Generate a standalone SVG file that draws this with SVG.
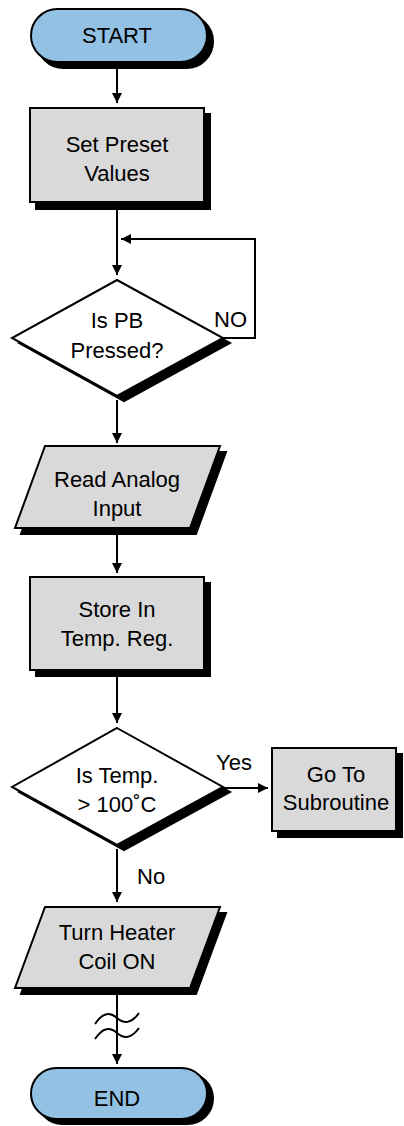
<svg xmlns="http://www.w3.org/2000/svg" width="404" height="1126" viewBox="0 0 404 1126">
<defs>
<style>
.sh{fill:#000;stroke:#000;stroke-width:2}
.term{fill:#93c1e3;stroke:#000;stroke-width:2}
.box{fill:#d9d9d9;stroke:#000;stroke-width:2}
.dia{fill:#fff;stroke:#000;stroke-width:2}
.t{font-family:"Liberation Sans",Arial,sans-serif;font-size:22px;fill:#000;text-anchor:middle}
.lbl{font-family:"Liberation Sans",Arial,sans-serif;font-size:22px;fill:#000}
.ln{fill:none;stroke:#000;stroke-width:2}
</style>
<marker id="ah" viewBox="0 0 10 10" refX="10" refY="5" markerWidth="10" markerHeight="10" markerUnits="userSpaceOnUse" orient="auto">
<path d="M0,0 L10,5 L0,10 Z" fill="#000"/>
</marker>
</defs>

<g id="connectors">
<path class="ln" d="M117,67 V103" marker-end="url(#ah)"/>
<path class="ln" d="M117,209 V275" marker-end="url(#ah)"/>
<path class="ln" d="M223,338 H255 V239 H121" marker-end="url(#ah)"/>
<path class="ln" d="M117,400 V443" marker-end="url(#ah)"/>
<path class="ln" d="M117,533 V573" marker-end="url(#ah)"/>
<path class="ln" d="M117,676 V723" marker-end="url(#ah)"/>
<path class="ln" d="M223,788 H268" marker-end="url(#ah)"/>
<path class="ln" d="M117,849 V902" marker-end="url(#ah)"/>
<path class="ln" d="M117,994 V1064" marker-end="url(#ah)"/>
<path class="ln" d="M95,1024 C103,1012 110,1012 117,1018 S131,1024 139,1013"/>
<path class="ln" d="M95,1039 C103,1027 110,1027 117,1033 S131,1039 139,1028"/>
<text class="lbl" x="214" y="327">NO</text>
<text class="lbl" x="216" y="770">Yes</text>
<text class="lbl" x="137" y="884">No</text>
</g>

<g id="start">
<rect class="sh" x="37" y="15" width="176" height="53" rx="26.5"/>
<rect class="term" x="31" y="9" width="176" height="53" rx="26.5"/>
<text class="t" x="117" y="43">START</text>
</g>

<g id="set-preset">
<rect class="sh" x="36" y="114" width="174" height="95"/>
<rect class="box" x="30" y="108" width="174" height="94"/>
<text class="t" x="117" y="152">Set Preset</text>
<text class="t" x="117" y="181">Values</text>
</g>

<g id="pb-pressed">
<polygon class="sh" points="124,285 230,343 124,401 19,343"/>
<polygon class="dia" points="117,280 223,338 117,396 12,338"/>
<text class="t" x="117" y="328">Is PB</text>
<text class="t" x="117" y="358">Pressed?</text>
</g>

<g id="read-analog">
<polygon class="sh" points="51,452 226,452 196,534 21,534"/>
<polygon class="box" points="45,446 220,446 190,528 15,528"/>
<text class="t" x="117" y="487">Read Analog</text>
<text class="t" x="117" y="516">Input</text>
</g>

<g id="store-temp">
<rect class="sh" x="36" y="583" width="174" height="93"/>
<rect class="box" x="30" y="577" width="174" height="93"/>
<text class="t" x="117" y="617">Store In</text>
<text class="t" x="117" y="646">Temp. Reg.</text>
</g>

<g id="temp-check">
<polygon class="sh" points="124,733 230,792 124,850 19,792"/>
<polygon class="dia" points="117,728 223,787 117,845 12,787"/>
<text class="t" x="117" y="783">Is Temp.</text>
<text class="t" x="117" y="812">&gt; 100˚C</text>
</g>

<g id="subroutine">
<rect class="sh" x="278" y="754" width="124" height="83"/>
<rect class="box" x="272" y="748" width="124" height="83"/>
<text class="t" x="336" y="782">Go To</text>
<text class="t" x="336" y="810">Subroutine</text>
</g>

<g id="heater-on">
<polygon class="sh" points="51,913 226,913 196,994 21,994"/>
<polygon class="box" points="45,907 220,907 190,988 15,988"/>
<text class="t" x="117" y="940">Turn Heater</text>
<text class="t" x="117" y="969">Coil ON</text>
</g>

<g id="end">
<rect class="sh" x="37" y="1073" width="176" height="51" rx="25.5"/>
<rect class="term" x="31" y="1068" width="176" height="51" rx="25.5"/>
<text class="t" x="117" y="1106">END</text>
</g>
</svg>
